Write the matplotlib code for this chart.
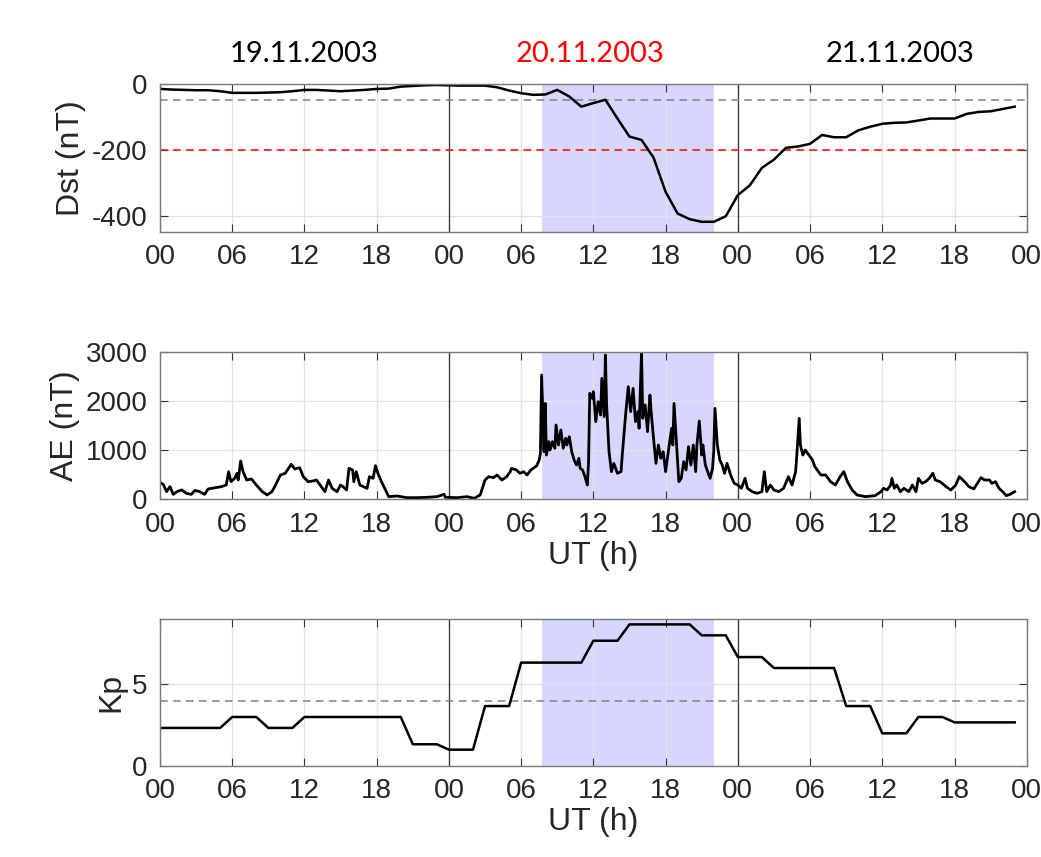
import matplotlib
matplotlib.use("Agg")
import matplotlib.pyplot as plt
import numpy as np

plt.rcParams["font.family"] = ["Liberation Sans", "DejaVu Sans"]
plt.rcParams["axes.unicode_minus"] = False

# hourly Dst, 19.11.2003 00 UT .. 21.11.2003 23 UT
dst_hours = np.arange(72)
dst = [-15, -17, -18, -19, -19, -22, -27, -27, -27, -26, -25, -22,
       -18, -18, -20, -22, -20, -18, -15, -14, -8, -6, -4, -3,
       -4, -5, -5, -5, -10, -20, -28, -33, -32, -18, -38, -69,
       -58, -48, -105, -160, -170, -224, -328, -394, -411, -419, -419, -402,
       -338, -308, -255, -230, -194, -190, -182, -155, -162, -162, -141, -130,
       -121, -118, -117, -111, -105, -105, -105, -91, -85, -83, -76, -69]

# AE (nT)
ae_hours = [0.0, 0.28, 0.55, 0.83, 1.1, 1.4, 1.8, 2.2, 2.6, 2.9, 3.3, 3.7, 4.0, 4.6, 5.1, 5.5,
            5.7, 5.9, 6.2, 6.4, 6.5, 6.7, 6.9, 7.2, 7.6, 8.0, 8.5, 8.9, 9.3, 9.6, 10.0, 10.4,
            10.9, 11.2, 11.6, 11.9, 12.3, 12.7, 13.0, 13.4, 13.7, 14.0, 14.3, 14.7, 15.0, 15.2,
            15.5, 15.7, 16.0, 16.1, 16.3, 16.6, 16.9, 17.2, 17.4, 17.7, 17.9, 18.1, 18.4, 19.0,
            19.7, 20.5, 21.3, 22.2, 23.0, 23.6, 23.7, 24.7, 25.5, 26.1, 26.6, 27.0, 27.3, 27.7,
            28.0, 28.4, 28.8, 29.1, 29.2, 29.6, 29.9, 30.2, 30.5, 30.8, 31.0, 31.3, 31.5, 31.6,
            31.7, 31.9, 32.0, 32.1, 32.3, 32.4, 32.6, 32.8, 32.9, 33.1, 33.3, 33.5, 33.7, 33.8,
            34.0, 34.2, 34.4, 34.6, 34.8, 34.9, 35.1, 35.3, 35.5, 35.6, 35.7, 35.9, 36.0, 36.2,
            36.4, 36.6, 36.7, 36.9, 37.0, 37.1, 37.3, 37.5, 37.7, 38.0, 38.3, 38.4, 38.7, 38.9,
            39.1, 39.3, 39.5, 39.7, 39.8, 40.0, 40.1, 40.3, 40.5, 40.7, 40.8, 41.0, 41.2, 41.4,
            41.6, 41.8, 42.0, 42.3, 42.5, 42.6, 42.7, 42.9, 43.1, 43.3, 43.5, 43.7, 43.9, 44.1,
            44.3, 44.5, 44.6, 44.8, 45.0, 45.1, 45.3, 45.5, 45.7, 45.9, 46.0, 46.1, 46.3, 46.5,
            46.7, 46.9, 47.1, 47.4, 47.7, 48.0, 48.3, 48.6, 48.8, 49.2, 49.6, 50.0, 50.2, 50.4,
            50.7, 51.0, 51.4, 51.8, 52.2, 52.5, 52.8, 52.9, 53.1, 53.2, 53.4, 53.6, 53.9, 54.2,
            54.4, 54.9, 55.3, 55.7, 56.1, 56.5, 56.8, 57.1, 57.5, 57.9, 58.6, 59.4, 59.9, 60.1,
            60.4, 60.7, 60.8, 61.0, 61.2, 61.5, 61.8, 62.2, 62.5, 62.8, 63.0, 63.3, 63.6, 63.9,
            64.2, 64.4, 64.8, 65.3, 65.7, 66.1, 66.4, 66.7, 67.2, 67.6, 67.9, 68.2, 68.5, 68.9,
            69.1, 69.4, 69.7, 70.0, 70.3, 70.6, 71.0]
ae = [345, 300, 155, 257, 100, 155, 190, 120, 100, 180, 155, 100, 210, 235, 257, 290,
      560, 360, 425, 528, 392, 778, 562, 392, 413, 290, 155, 88, 155, 290, 494, 528,
      711, 616, 643, 460, 358, 372, 392, 257, 155, 392, 223, 155, 290, 257,
      189, 629, 596, 358, 562, 290, 257, 223, 460, 426, 684, 528, 358, 54,
      67, 33, 33, 40, 54, 100, 40, 33, 54, 20, 87, 392, 460, 440,
      494, 392, 460, 562, 629, 596, 528, 562, 494, 596, 629, 684, 799, 934,
      2527, 968, 1950, 900, 1171, 1002, 1171, 1036, 1510, 1104, 1409, 1036, 1239, 1104,
      1273, 968, 799, 697, 833, 629, 596, 460, 290, 765, 2154, 2053, 2188, 1578,
      1984, 1713, 2459, 1680, 2933, 1917, 968, 562, 731, 528, 562, 900, 1781, 2289,
      1781, 2255, 1578, 1781, 1443, 3000, 1646, 1917, 1375, 2120, 1781, 1239, 731, 1104,
      833, 968, 562, 1104, 1443, 1104, 1950, 1171, 358, 426, 765, 596, 1070, 697,
      1104, 562, 1104, 1591, 900, 1104, 697, 562, 426, 629, 968, 1849, 1104, 799,
      697, 528, 731, 494, 325, 290, 223, 426, 223, 155, 121, 155, 562, 155,
      290, 189, 155, 223, 460, 290, 562, 900, 1646, 1104, 900, 1002, 900, 799,
      663, 494, 494, 358, 290, 460, 562, 358, 189, 87, 54, 74, 155, 223,
      189, 290, 426, 223, 290, 155, 223, 155, 290, 155, 426, 325, 358, 426,
      528, 392, 358, 257, 189, 290, 460, 392, 257, 210, 325, 440, 392, 392,
      325, 358, 223, 155, 74, 100, 155]

# Kp, 3-hourly intervals
kp_3h = [2.33, 2.33, 3.0, 2.33, 3.0, 3.0, 3.0, 1.33,
         1.0, 3.67, 6.33, 6.33, 7.67, 8.67, 8.67, 8.0,
         6.67, 6.0, 6.0, 3.67, 2.0, 3.0, 2.67, 2.67]
kp_hours = np.arange(72)
kp = np.repeat(kp_3h, 3)

days = ["19.11.2003", "20.11.2003", "21.11.2003"]
day_colors = ["black", "red", "black"]
day_label_x = [12, 35.7, 61.5]
storm_start, storm_end = 31.75, 46.0
xticks = np.arange(0, 73, 6)
xticklabels = ["%02d" % (h % 24) for h in xticks]

fig = plt.figure(figsize=(10.41, 8.57), dpi=100)
ax_dst = fig.add_axes([0.1537, 0.7293, 0.8326, 0.1727])
ax_ae = fig.add_axes([0.1537, 0.4174, 0.8326, 0.1722])
ax_kp = fig.add_axes([0.1537, 0.1062, 0.8326, 0.1715])

for ax in (ax_dst, ax_ae, ax_kp):
    ax.axvspan(storm_start, storm_end, color="#d6d6ff", lw=0)
    ax.axvline(24, color="#333333", lw=0.9)
    ax.axvline(48, color="#333333", lw=0.9)
    ax.set_xlim(0, 72)
    ax.set_xticks(xticks)
    ax.set_xticklabels(xticklabels)
    ax.grid(True, color="#e3e3e3", lw=0.9)
    ax.tick_params(direction="in", length=6, width=0.8, colors="#333333",
                   top=True, right=True, labelsize=20, pad=9)
    ax.tick_params(labelcolor="#262626")
    for s in ax.spines.values():
        s.set_color("#7a7a7a")
        s.set_linewidth(1.0)

ax_dst.axhline(-50, color="gray", ls=(0, (5, 3.5)), lw=1.1)
ax_dst.axhline(-200, color="red", ls=(0, (5, 3.5)), lw=1.1)
ax_dst.plot(dst_hours, dst, color="black", lw=1.8)
ax_dst.set_ylim(-450, 0)
ax_dst.set_yticks([-400, -200, 0])
ax_dst.set_ylabel("Dst (nT)", fontsize=23, color="#262626")

ax_ae.plot(ae_hours, ae, color="black", lw=2.0)
ax_ae.set_ylim(0, 3000)
ax_ae.set_yticks([0, 1000, 2000, 3000])
ax_ae.set_ylabel("AE (nT)", fontsize=23, color="#262626")
ax_ae.set_xlabel("UT (h)", fontsize=23, color="#262626", labelpad=2)

ax_kp.axhline(4, color="gray", ls=(0, (5, 3.5)), lw=1.1)
ax_kp.plot(kp_hours, kp, color="black", lw=1.8)
ax_kp.set_ylim(0, 9)
ax_kp.set_yticks([0, 5])
ax_kp.set_ylabel("Kp", fontsize=23, color="#262626")
ax_kp.set_xlabel("UT (h)", fontsize=23, color="#262626", labelpad=2)

for d, c, xd in zip(days, day_colors, day_label_x):
    ax_dst.text(xd, 1.2, d, transform=ax_dst.get_xaxis_transform(),
                ha="center", va="center", fontsize=21, color=c, family=["Lato", "DejaVu Sans"])

fig.savefig("out.png", dpi=100)
